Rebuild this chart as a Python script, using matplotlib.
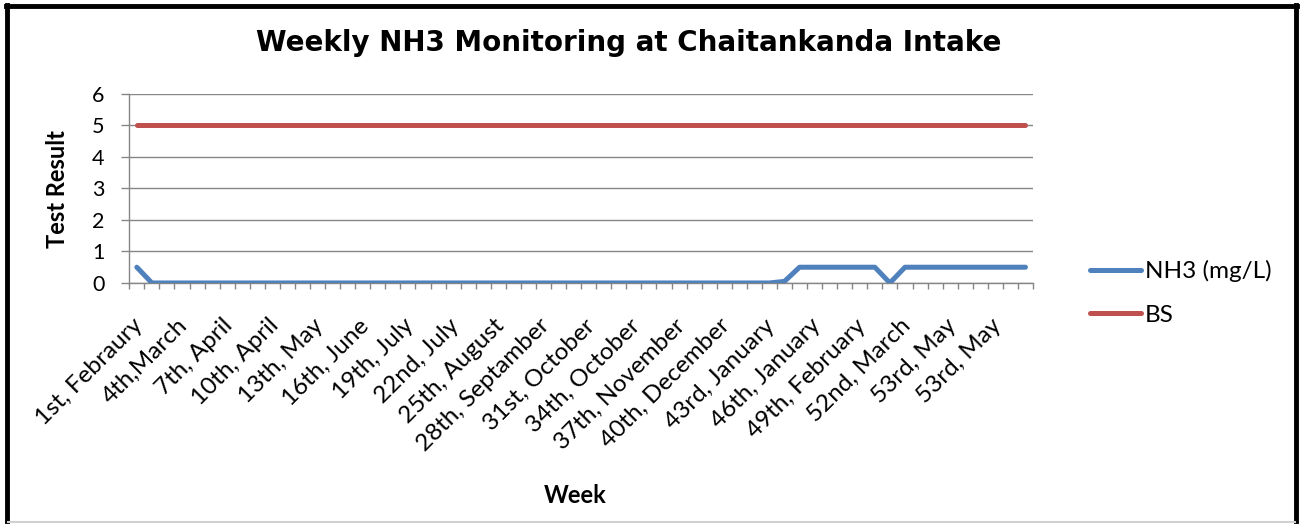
import matplotlib.pyplot as plt
import matplotlib.transforms as mtransforms
from matplotlib.lines import Line2D

# weekly readings, 60 weeks
nh3 = [0.5, 0, 0, 0, 0, 0, 0, 0, 0, 0,
       0, 0, 0, 0, 0, 0, 0, 0, 0, 0,
       0, 0, 0, 0, 0, 0, 0, 0, 0, 0,
       0, 0, 0, 0, 0, 0, 0, 0, 0, 0,
       0, 0, 0, 0.05, 0.5, 0.5, 0.5, 0.5, 0.5, 0.5,
       0, 0.5, 0.5, 0.5, 0.5, 0.5, 0.5, 0.5, 0.5, 0.5]
bs = [5, 5, 5, 5, 5, 5, 5, 5, 5, 5,
      5, 5, 5, 5, 5, 5, 5, 5, 5, 5,
      5, 5, 5, 5, 5, 5, 5, 5, 5, 5,
      5, 5, 5, 5, 5, 5, 5, 5, 5, 5,
      5, 5, 5, 5, 5, 5, 5, 5, 5, 5,
      5, 5, 5, 5, 5, 5, 5, 5, 5, 5]

# only every third week is labelled on the axis
week_labels = ["1st, Febraury", "4th,March", "7th, April", "10th, April",
               "13th, May", "16th, June", "19th, July", "22nd, July",
               "25th, August", "28th, Septamber", "31st, October",
               "34th, October", "37th, November", "40th, December",
               "43rd, January", "46th, January", "49th, February",
               "52nd, March", "53rd, May", "53rd, May"]
label_step = 3

BLUE = '#4F81BD'
RED = '#C0504D'
GRID = '#868686'
FONT = 'Lato'

fig = plt.figure(figsize=(13.02, 5.24), dpi=100)
ax = fig.add_axes([0.0993, 0.46, 0.6941, 0.3606])

x = list(range(len(nh3)))
ax.plot(x, nh3, color=BLUE, lw=3.6, solid_capstyle='round', solid_joinstyle='round', label='NH3 (mg/L)', zorder=3)
ax.plot(x, bs, color=RED, lw=3.6, solid_capstyle='round', label='BS', zorder=3)

ax.set_xlim(-0.5, len(nh3) - 0.5)
ax.set_ylim(0, 6)
ax.set_yticks(range(0, 7))
ax.grid(axis='y', color=GRID, lw=1)
ax.set_axisbelow(True)

# tick marks between categories, labels on every third category
ax.set_xticks([i - 0.5 for i in range(len(nh3) + 1)])
ax.set_xticklabels([])
ax.set_xticks(list(range(0, len(nh3), label_step)), minor=True)
ax.set_xticklabels(week_labels, minor=True, rotation=45, ha='right', va='top',
                   rotation_mode='anchor', fontsize=17.5, family=FONT)
ax.tick_params(axis='x', which='major', length=4.5, color=GRID, width=1)
ax.tick_params(axis='x', which='minor', length=0, pad=23)
ax.tick_params(axis='y', length=6, color=GRID, width=1, pad=12, labelsize=15.5)
for t in ax.get_yticklabels():
    t.set_family(FONT)
# nudge rotated labels a little to the left
shift = mtransforms.ScaledTranslation(-5 / 100, 0, fig.dpi_scale_trans)
for t in ax.get_xticklabels(minor=True):
    t.set_transform(t.get_transform() + shift)

for s in ['top', 'right']:
    ax.spines[s].set_visible(False)
for s in ['left', 'bottom']:
    ax.spines[s].set_color(GRID)
    ax.spines[s].set_linewidth(1)

fig.text(0.0445, 0.639, 'Test Result', rotation=90, fontsize=17, fontweight='bold',
         family=FONT, ha='center', va='center')
fig.text(0.4416, 0.055, 'Week', fontsize=17, fontweight='bold', family=FONT, ha='center', va='center')
fig.text(0.483, 0.918, 'Weekly NH3 Monitoring at Chaitankanda Intake', fontsize=20,
         fontweight='bold', family='DejaVu Sans', ha='center', va='center')

fig.legend(handles=ax.get_lines(), loc='center left', bbox_to_anchor=(0.8207, 0.4408),
           frameon=False, prop={'family': FONT, 'size': 17.5},
           handlelength=2.1, handletextpad=0.15, labelspacing=0.92)

# chart frame
fig.add_artist(Line2D([0.0055, 0.0055], [0.005, 0.99], color='black', lw=3.5))
fig.add_artist(Line2D([0.0045, 0.9965], [0.9885, 0.9885], color='black', lw=3.5))
fig.add_artist(Line2D([0.9955, 0.9955], [0.005, 0.99], color='black', lw=3.5))
fig.add_artist(Line2D([0.006, 0.995], [0.004, 0.004], color='#d0d0d0', lw=1.5))

fig.savefig('out.png', dpi=100)
